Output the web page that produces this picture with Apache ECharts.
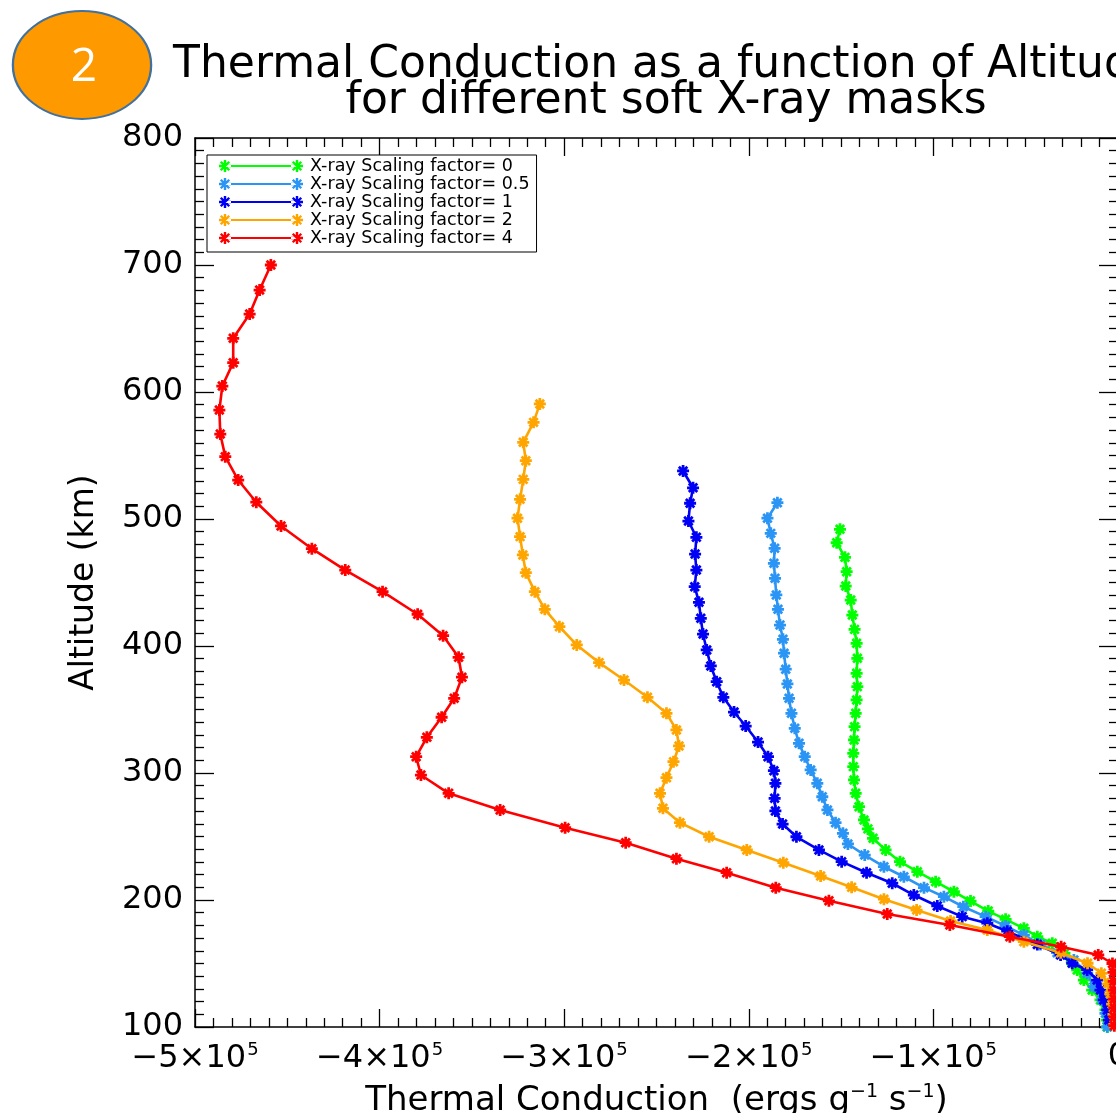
<!DOCTYPE html>
<html>
<head>
<meta charset="utf-8">
<script src="https://cdn.jsdelivr.net/npm/echarts@6/dist/echarts.min.js"></script>
<style>
  html, body { margin: 0; padding: 0; background: #ffffff; overflow: hidden; }
  #chart { width: 1120px; height: 1113px; }
</style>
</head>
<body>
<div id="chart"></div>
<script>
// ---------------- DATA (altitude in km, thermal conduction in erg g^-1 s^-1) ----------------
const seriesNames = [
  'X-ray Scaling factor= 0',
  'X-ray Scaling factor= 0.5',
  'X-ray Scaling factor= 1',
  'X-ray Scaling factor= 2',
  'X-ray Scaling factor= 4'
];

// factor 0 (green)
const alt0 = [491.9,481.3,469.8,458.5,447.2,436.2,424.4,413.1,402.1,390.3,378.5,368.0,357.5,347.0,336.5,326.0,315.5,305.0,294.5,284.0,273.5,263.0,256.0,248.6,239.4,230.2,222.3,214.4,206.5,199.2,191.3,184.8,177.7,171.1,165.9,158.0,151.0,144.9,137.0,129.1,121.3,113.4,105.5,100.0];
const tc0  = [-150600,-152400,-147900,-147000,-147500,-144800,-143900,-142700,-141600,-141200,-141600,-141200,-141600,-142100,-142700,-143000,-143400,-143400,-143000,-142100,-140300,-137600,-135500,-132700,-125900,-118100,-108700,-98800,-88900,-79900,-70300,-60900,-51000,-43700,-35600,-29000,-25000,-22100,-18500,-14000,-9500,-6800,-6000,-5800];

// factor 0.5 (light blue)
const alt05 = [512.8,500.6,488.7,476.9,465.1,453.3,440.2,428.9,416.5,405.3,394.3,381.7,370.1,358.8,347.0,335.2,323.4,312.8,302.4,291.9,281.3,270.9,260.9,252.5,244.1,235.4,226.2,218.3,209.7,202.6,194.7,186.9,179.5,172.4,165.0,158.5,152.8,142.3,131.7,121.3,110.8,100.2];
const tc05  = [-184500,-189900,-188100,-186000,-186400,-185800,-185100,-184200,-183100,-181500,-180900,-180000,-179100,-178200,-176900,-175100,-172800,-169700,-166500,-162900,-160200,-157400,-153000,-149000,-146300,-137200,-126800,-116000,-105100,-94300,-83800,-71700,-60900,-51000,-42000,-33000,-23900,-16700,-13100,-8600,-6800,-5800];

// factor 1 (blue)
const alt1 = [537.8,524.6,512.4,498.4,485.6,472.4,459.8,446.7,434.4,421.8,409.4,396.9,384.3,371.9,359.6,348.0,337.0,324.4,312.8,301.8,291.9,280.1,270.1,259.8,249.8,239.4,230.2,221.5,213.2,203.9,195.3,186.9,181.7,175.4,164.9,156.7,150.2,144.9,137.0,129.1,121.3,113.4,105.5];
const tc1  = [-235600,-230200,-231800,-232700,-228400,-229100,-228400,-229300,-227000,-226000,-224800,-222800,-220600,-217400,-213800,-208000,-201700,-195000,-189600,-186400,-185600,-186000,-185600,-181700,-174200,-162000,-149700,-136200,-122300,-110600,-97900,-84400,-70800,-60000,-43700,-31100,-24800,-16700,-11300,-9500,-7700,-5800,-5000];

// factor 2 (orange)
const alt2 = [590.6,576.1,560.4,545.9,531.2,515.5,500.6,486.1,471.7,457.7,442.8,428.9,415.2,400.8,386.9,373.2,359.6,347.0,333.9,321.3,308.9,296.3,284.0,272.2,260.9,249.8,239.4,229.4,218.9,210.0,200.6,192.1,183.5,176.4,167.2,158.5,150.2,142.3,134.0,126.0,118.0,110.0,102.0];
const tc2  = [-313200,-316600,-322200,-320800,-322200,-323900,-325300,-323900,-322400,-320800,-315900,-310500,-302600,-293200,-281100,-267600,-254900,-244600,-239200,-237800,-240800,-244600,-248100,-246500,-237300,-221500,-201100,-181300,-161100,-144300,-126800,-109100,-90700,-70800,-51000,-31000,-16500,-9000,-5500,-4200,-3200,-2500,-2000];

// factor 4 (red)
const alt4 = [700.0,680.3,661.4,642.3,623.1,604.7,585.8,566.9,549.1,530.7,513.2,494.5,476.6,459.8,442.8,425.0,408.1,391.1,375.4,358.8,343.9,328.1,312.8,298.4,284.0,270.9,256.9,245.1,232.5,221.5,209.7,199.4,189.0,180.3,171.1,163.2,156.7,150.0,143.0,136.0,129.0,122.0,115.0,108.0,101.0];
const tc4  = [-458900,-465000,-470400,-479300,-479300,-485200,-486800,-486300,-483600,-476600,-466800,-453400,-436700,-418600,-398400,-379400,-365600,-357200,-355400,-359600,-366400,-374400,-380200,-377600,-362600,-334700,-299500,-266700,-239200,-212000,-185400,-156600,-125000,-91100,-58600,-30800,-10700,-3000,-2500,-2300,-2200,-2100,-2000,-2000,-2000];

const seriesAlt = [alt0, alt05, alt1, alt2, alt4];
const seriesTc  = [tc0, tc05, tc1, tc2, tc4];
const seriesColors = ['#00ff00', '#2b95f5', '#0000f5', '#ffa500', '#ff0000'];

const xTickValues = [-500000, -400000, -300000, -200000, -100000, 0];
const yTickValues = [100, 200, 300, 400, 500, 600, 700, 800];

// ---------------- SHAPES ----------------
function starPath(cx, cy, r, t) {
  let p = '';
  const h = t / 2;
  [0, 45, 90, 135].forEach(function (deg) {
    const a = deg * Math.PI / 180;
    const dx = Math.cos(a), dy = Math.sin(a);
    const nx = -dy, ny = dx;
    const pts = [
      [cx - r * dx + h * nx, cy - r * dy + h * ny],
      [cx + r * dx + h * nx, cy + r * dy + h * ny],
      [cx + r * dx - h * nx, cy + r * dy - h * ny],
      [cx - r * dx - h * nx, cy - r * dy - h * ny]
    ];
    p += 'M' + pts.map(function (q) { return q[0].toFixed(2) + ' ' + q[1].toFixed(2); }).join(' L') + ' Z ';
  });
  return p;
}
const markerSymbol = 'path://' + starPath(10, 10, 10, 4.6);
const legendIcon = 'path://' + starPath(60, 60, 60, 24) + starPath(780, 60, 60, 24) +
  'M60 51 L780 51 L780 69 L60 69 Z';

// ---------------- CHART ----------------
const chart = echarts.init(document.getElementById('chart'), null, { renderer: 'canvas' });

const FONT = 'DejaVu Sans';

const series = seriesNames.map(function (name, i) {
  return {
    name: name,
    type: 'line',
    xAxisIndex: 0,
    yAxisIndex: 0,
    data: seriesAlt[i].map(function (a, k) { return [seriesTc[i][k], a]; }),
    symbol: markerSymbol,
    symbolSize: 12,
    showAllSymbol: true,
    color: seriesColors[i],
    lineStyle: { color: seriesColors[i], width: 2.6 },
    itemStyle: { color: seriesColors[i] },
    emphasis: { disabled: true },
    animation: false,
    z: 2 + i
  };
});

const axisLineStyle = { color: '#000', width: 1.5 };
const tickStyle = { color: '#000', width: 1.3 };

function xLabel(v) {
  if (v === 0) return '{m|0}';
  return '{m|−' + Math.round(-v / 100000) + '×10}{s|5}';
}

const option = {
  backgroundColor: '#ffffff',
  animation: false,
  title: {
    text: 'Thermal Conduction as a function of Altitude\nfor different soft X-ray masks',
    left: 661,
    top: 43,
    textAlign: 'center',
    textStyle: { fontFamily: FONT, fontSize: 44, fontWeight: 'normal', color: '#000', lineHeight: 36 }
  },
  legend: {
    orient: 'vertical',
    left: 207,
    top: 155,
    padding: [2, 7, 5, 12],
    itemGap: 0,
    itemWidth: 84,
    itemHeight: 12,
    icon: legendIcon,
    borderColor: '#000',
    borderWidth: 1,
    backgroundColor: '#fff',
    selectedMode: false,
    data: seriesNames,
    textStyle: { fontFamily: FONT, fontSize: 17.5, color: '#000', lineHeight: 17.5, padding: [0, 0, 0, 2] }
  },
  grid: { left: 195, right: 2, top: 138, bottom: 86, containLabel: false, outerBoundsMode: 'none' },
  xAxis: [
    {
      type: 'value', position: 'bottom', min: xTickValues[0], max: xTickValues[xTickValues.length - 1], interval: 100000,
      axisLine: { show: true, onZero: false, lineStyle: axisLineStyle },
      axisTick: { show: true, inside: true, length: 18, lineStyle: tickStyle },
      minorTick: { show: true, splitNumber: 10, length: 9, lineStyle: tickStyle },
      splitLine: { show: false },
      axisLabel: {
        margin: 14, color: '#000', fontFamily: FONT,
        formatter: xLabel,
        rich: {
          m: { fontFamily: FONT, fontSize: 32, color: '#000' },
          s: { fontFamily: FONT, fontSize: 18, color: '#000', padding: [0, 0, 17, 1] }
        }
      },
      name: 'Thermal Conduction  (ergs g{s|−1} s{s|−1})',
      nameLocation: 'middle',
      nameGap: 56,
      nameTextStyle: {
        fontFamily: FONT, fontSize: 34, color: '#000',
        rich: { s: { fontFamily: FONT, fontSize: 19, color: '#000', padding: [0, 0, 18, 0] } }
      }
    },
    {
      type: 'value', position: 'top', min: xTickValues[0], max: xTickValues[xTickValues.length - 1], interval: 100000,
      axisLine: { show: true, onZero: false, lineStyle: axisLineStyle },
      axisTick: { show: true, inside: true, length: 18, lineStyle: tickStyle },
      minorTick: { show: true, splitNumber: 10, length: 9, lineStyle: tickStyle },
      splitLine: { show: false },
      axisLabel: { show: false }
    }
  ],
  yAxis: [
    {
      type: 'value', position: 'left', min: yTickValues[0], max: yTickValues[yTickValues.length - 1], interval: 100,
      axisLine: { show: true, onZero: false, lineStyle: axisLineStyle },
      axisTick: { show: true, inside: true, length: 19, lineStyle: tickStyle },
      minorTick: { show: true, splitNumber: 10, length: 9, lineStyle: tickStyle },
      splitLine: { show: false },
      axisLabel: { margin: 12, color: '#000', fontFamily: FONT, fontSize: 32 },
      name: 'Altitude (km)',
      nameLocation: 'middle',
      nameGap: 94,
      nameRotate: 90,
      nameTextStyle: { fontFamily: FONT, fontSize: 33, color: '#000' }
    },
    {
      type: 'value', position: 'right', min: yTickValues[0], max: yTickValues[yTickValues.length - 1], interval: 100,
      axisLine: { show: true, onZero: false, lineStyle: axisLineStyle },
      axisTick: { show: true, inside: true, length: 19, lineStyle: tickStyle },
      minorTick: { show: true, splitNumber: 10, length: 9, lineStyle: tickStyle },
      splitLine: { show: false },
      axisLabel: { show: false }
    }
  ],
  graphic: [
    {
      type: 'circle',
      x: 82, y: 65,
      scaleX: 1.28, scaleY: 1,
      shape: { cx: 0, cy: 0, r: 54 },
      style: { fill: '#ff9900', stroke: '#41719c', lineWidth: 1.8 },
      z: 100
    },
    {
      type: 'text',
      x: 84, y: 68,
      style: {
        text: '2', fill: '#ffffff', fontFamily: 'Open Sans', fontSize: 46,
        textAlign: 'center', textVerticalAlign: 'middle'
      },
      z: 101
    }
  ],
  series: series
};

chart.setOption(option);
</script>
</body>
</html>
